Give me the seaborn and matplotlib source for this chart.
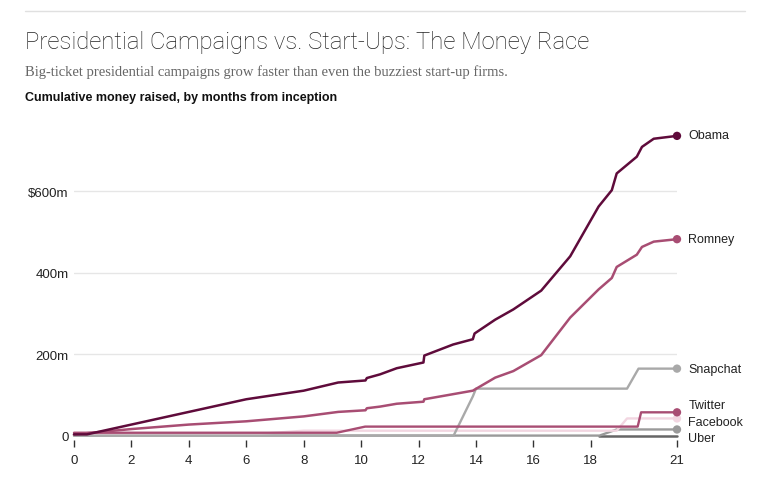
import matplotlib
matplotlib.use("Agg")
import matplotlib.pyplot as plt
import seaborn as sns
import pandas as pd
import numpy as np

# ---------------- data (months from inception, $m) ----------------
obama_x = [0.0, 0.45, 6.0, 8.0, 9.2, 10.15, 10.2, 10.66, 11.24, 12.17, 12.2, 13.2, 13.89, 13.95, 14.67, 15.3, 16.27, 17.28, 18.27, 18.73, 18.9, 19.6, 19.78, 20.19, 21.0]
obama_y = [4, 4, 90, 111, 131, 136, 142, 151, 166, 180, 197, 224, 237, 251, 285, 310, 356, 440, 562, 602, 643, 684, 708, 728, 735]

romney_x = [0.0, 2.0, 4.0, 6.0, 8.0, 9.2, 10.15, 10.2, 10.66, 11.24, 12.17, 12.2, 13.89, 14.67, 15.3, 16.27, 17.28, 18.27, 18.73, 18.9, 19.6, 19.78, 20.19, 21.0]
romney_y = [4, 17, 28, 36, 48, 59, 63, 68, 72, 79, 84, 90, 111, 143, 159, 198, 290, 359, 387, 414, 444, 463, 476, 482]

snapchat_x = [0.0, 13.22, 13.89, 14.0, 19.26, 19.66, 21.0]
snapchat_y = [1, 1, 97, 116, 116, 165, 165]

twitter_x = [0.0, 9.15, 10.14, 19.63, 19.75, 21.0]
twitter_y = [8, 8, 23, 23, 58, 58]

facebook_x = [0.0, 6.0, 8.0, 18.9, 19.26, 21.0]
facebook_y = [3, 3, 13, 13, 43, 43]

uber_x = [0.0, 18.3, 18.9, 21.0]
uber_y = [1, 1, 16, 16]

uber_base_x = [18.3, 21.0]
uber_base_y = [0, 0]

series_names = ["Obama", "Romney", "Snapchat", "Twitter", "Facebook", "Uber"]
series_x = [obama_x, romney_x, snapchat_x, twitter_x, facebook_x, uber_x]
series_y = [obama_y, romney_y, snapchat_y, twitter_y, facebook_y, uber_y]

x_ticks = [0, 2, 4, 6, 8, 10, 12, 14, 16, 18, 21]
y_ticks = [0, 200, 400, 600]
y_tick_labels = ["0", "200m", "400m", "$600m"]

# ---------------- styles ----------------
colors = {
    "Obama": "#5f0b3b",
    "Romney": "#a84d73",
    "Snapchat": "#a9a9a9",
    "Twitter": "#a84d73",
    "Facebook": "#f2d6e1",
    "Uber": "#9a9a9a",
}
label_y = {"Obama": 737, "Romney": 482, "Snapchat": 165, "Twitter": 75, "Facebook": 35, "Uber": -6}
draw_order = ["Uber", "Facebook", "Snapchat", "Twitter", "Romney", "Obama"]

rows = []
for name, xs, ys in zip(series_names, series_x, series_y):
    for xv, yv in zip(xs, ys):
        rows.append({"series": name, "month": xv, "raised": yv})
df = pd.DataFrame(rows)

sns.set_theme(style="white")
plt.rcParams["font.family"] = ["Liberation Sans", "DejaVu Sans"]

W, H = 763, 485
fig = plt.figure(figsize=(W / 100, H / 100), dpi=100)

x0, x1 = 74, 677
y0 = 437
ppm = 245 / 600.0
ytop_val = 760
ax = fig.add_axes([x0 / W, (H - y0) / H, (x1 - x0) / W, ytop_val * ppm / H])
ax.set_xlim(0, 21)
ax.set_ylim(0, ytop_val)

for g in [200, 400, 600]:
    ax.axhline(g, color="#e6e6e6", lw=1, zorder=0)

for name in draw_order:
    sub = df[df["series"] == name]
    sns.lineplot(data=sub, x="month", y="raised", ax=ax, color=colors[name],
                 lw=1.8 if name in ("Obama", "Romney") else 1.7,
                 estimator=None, sort=False, legend=False, clip_on=False, zorder=3)
    ax.scatter([sub["month"].iloc[-1]], [sub["raised"].iloc[-1]], s=36,
               color=colors[name], zorder=4, clip_on=False, edgecolor="none")

sns.lineplot(x=uber_base_x, y=uber_base_y, ax=ax, color="#666666", lw=1.8,
             estimator=None, legend=False, clip_on=False, zorder=2)

for name in series_names:
    ax.text(21.4, label_y[name], name, fontsize=9, color="#222222",
            va="center", ha="left", clip_on=False)

for s in ax.spines.values():
    s.set_visible(False)
ax.spines["bottom"].set_position(("data", -11))
ax.set_xlabel("")
ax.set_ylabel("")
ax.set_xticks(x_ticks)
ax.set_xticklabels([str(t) for t in x_ticks], fontsize=9.5, color="#222222")
ax.tick_params(axis="x", length=5, width=1, color="#333333", pad=5, direction="out")
ax.xaxis.set_ticks_position("bottom")
ax.set_yticks(y_ticks)
ax.set_yticklabels(y_tick_labels, fontsize=9.5, color="#222222")
ax.tick_params(axis="y", length=0, pad=4)
ax.patch.set_alpha(0)

# header
fig.add_artist(plt.Line2D([25 / W, 745 / W], [1 - 12 / H, 1 - 12 / H], color="#e0e0e0", lw=1))
fig.text(25 / W, 1 - 43 / H, "Presidential Campaigns vs. Start-Ups: The Money Race",
         fontsize=17.2, color="#222222", va="center", ha="left",
         family=["Roboto", "DejaVu Sans"], fontweight="light")
fig.text(25 / W, 1 - 72 / H, "Big-ticket presidential campaigns grow faster than even the buzziest start-up firms.",
         fontsize=10.5, color="#666666", va="center", ha="left",
         family=["Liberation Serif", "DejaVu Serif"])
fig.text(25 / W, 1 - 98 / H, "Cumulative money raised, by months from inception",
         fontsize=9, color="#111111", va="center", ha="left", fontweight="bold")

fig.savefig("out.png", dpi=100)
